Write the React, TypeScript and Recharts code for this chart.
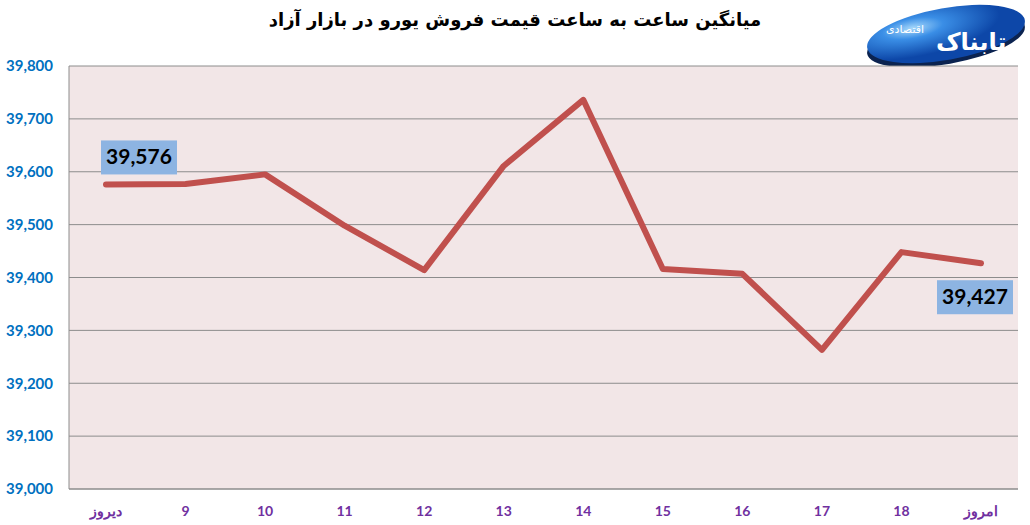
import { LineChart, Line, XAxis, YAxis, CartesianGrid, LabelList } from 'recharts'

const hours = ['دیروز', '9', '10', '11', '12', '13', '14', '15', '16', '17', '18', 'امروز']
const prices = [39576, 39577, 39595, 39498, 39414, 39611, 39736, 39416, 39407, 39263, 39448, 39427]
const yTicks = [39000, 39100, 39200, 39300, 39400, 39500, 39600, 39700, 39800]

const data = hours.map((h, i) => ({ hour: h, price: prices[i] }))

const fmt = (v: number) => v.toLocaleString('en-US')

const EndLabel = (props: any) => {
  const { x, y, value, index } = props
  if (index !== 0 && index !== prices.length - 1) return null
  const w = 76
  const h = 34
  // first label sits above and to the right, last one below
  const bx = index === 0 ? x - 5 : x - 44
  const by = index === 0 ? y - 44 : y + 17
  return (
    <g>
      <rect x={bx} y={by} width={w} height={h} fill="#8db4e2" />
      <text
        x={bx + w / 2}
        y={by + h / 2 + 7}
        textAnchor="middle"
        fontFamily="Lato, 'Open Sans', sans-serif"
        fontWeight={700}
        fontSize={21}
        fill="#000"
      >
        {fmt(value)}
      </text>
    </g>
  )
}

const logoText = {
  position: 'absolute' as const,
  color: '#fff',
  fontFamily: "'DejaVu Sans', sans-serif",
  direction: 'rtl' as const,
  whiteSpace: 'nowrap' as const,
  lineHeight: 1,
}

const Logo = () => (
  <div style={{ position: 'absolute', left: 856, top: 0, width: 172, height: 74 }}>
    <svg width={172} height={74} style={{ position: 'absolute', left: 0, top: 0 }}>
      <defs>
        <radialGradient id="lg" cx="30%" cy="28%" r="55%">
          <stop offset="0%" stopColor="#a6d8fb" />
          <stop offset="35%" stopColor="#3a8ee6" />
          <stop offset="100%" stopColor="#0d47a8" />
        </radialGradient>
      </defs>
      <ellipse cx={90} cy={40} rx={80} ry={24} fill="#0b2350" transform="rotate(-10 90 40)" />
      <ellipse cx={90} cy={34} rx={80} ry={26} fill="url(#lg)" transform="rotate(-10 90 34)" />
    </svg>
    <div style={{ ...logoText, left: 80, top: 30, fontSize: 24, fontWeight: 700 }}>تابناک</div>
    <div style={{ ...logoText, left: 30, top: 24, fontSize: 11 }}>اقتصادی</div>
  </div>
)

export default function App() {
  return (
    <div style={{ position: 'absolute', left: 0, top: 0, width: 1030, height: 525, background: '#fff' }}>
      <div
        style={{
          position: 'absolute',
          left: 0,
          top: 9,
          width: 1030,
          textAlign: 'center',
          fontFamily: "'DejaVu Sans', sans-serif",
          fontWeight: 700,
          fontSize: 18,
          direction: 'rtl',
          color: '#000',
        }}
      >
        میانگین ساعت به ساعت قیمت فروش یورو در بازار آزاد
      </div>
      <Logo />
      <LineChart width={1030} height={525} data={data} margin={{ top: 66, right: 12, bottom: 0, left: 0 }}>
        <CartesianGrid vertical={false} stroke="#8c8c8c" fill="#f2e6e7" />
        <XAxis
          dataKey="hour"
          padding={{ left: 37, right: 37 }}
          tickLine={false}
          tickSize={0}
          tickMargin={17}
          height={36}
          axisLine={{ stroke: '#8c8c8c' }}
          tick={{ fill: '#7030a0', fontSize: 14, fontWeight: 700, fontFamily: "Lato, 'Open Sans', sans-serif" }}
          interval={0}
        />
        <YAxis
          domain={[39000, 39800]}
          ticks={yTicks}
          tickFormatter={fmt}
          width={69}
          tickLine={false}
          tickSize={0}
          tickMargin={16}
          axisLine={{ stroke: '#8c8c8c' }}
          tick={{ fill: '#0070c0', fontSize: 15, fontWeight: 700, fontFamily: "Lato, 'Open Sans', sans-serif" }}
        />
        <Line
          type="linear"
          dataKey="price"
          stroke="#c0504d"
          strokeWidth={6}
          strokeLinecap="round"
          strokeLinejoin="round"
          dot={false}
          isAnimationActive={false}
        >
          <LabelList dataKey="price" content={EndLabel} />
        </Line>
      </LineChart>
    </div>
  )
}
